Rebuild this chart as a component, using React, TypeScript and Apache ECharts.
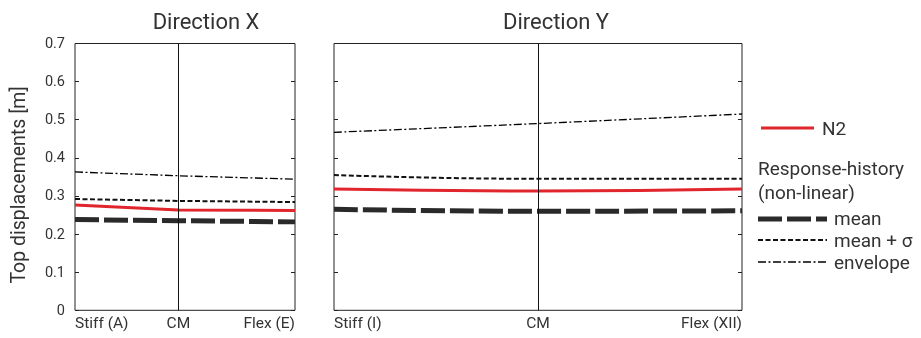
import React, { useEffect, useRef } from "react";
import * as echarts from "echarts";

// Horizontal locations along each direction (0 = stiff side, 1 = flexible side)
const positionsX = [0, 0.47, 1];
const positionsY = [0, 0.5, 1];
const labelsX = ["Stiff (A)", "CM", "Flex (E)"];
const labelsY = ["Stiff (I)", "CM", "Flex (XII)"];

// Top displacements [m], direction X
const n2X = [0.276, 0.263, 0.262];
const meanX = [0.238, 0.235, 0.232];
const meanSigmaX = [0.292, 0.287, 0.284];
const envelopeX = [0.363, 0.353, 0.344];

// Top displacements [m], direction Y
const n2Y = [0.318, 0.313, 0.318];
const meanY = [0.265, 0.26, 0.261];
const meanSigmaY = [0.355, 0.345, 0.345];
const envelopeY = [0.467, 0.49, 0.515];

const FONT = "Roboto";
const TEXT = "#333";
const RED = "#e0262c";

const styles = {
  n2: { color: RED, width: 3, type: "solid" as any },
  mean: { color: "#2a2a2a", width: 5, type: [24, 5] as any },
  meanSigma: { color: "#111", width: 2, type: [5, 2.5] as any },
  envelope: { color: "#000", width: 1.3, type: [8, 2.5, 2, 2.5] as any },
};

function toPoints(pos: number[], vals: number[]) {
  return pos.map((p, i) => [p, vals[i]]);
}

export default function App() {
  const ref = useRef<HTMLDivElement>(null);

  useEffect(() => {
    if (!ref.current) return;
    const chart = echarts.init(ref.current, null, { renderer: "svg" });

    const grids = [
      { left: 75, top: 43.5, width: 220, height: 266.8 },
      { left: 334, top: 43.5, width: 408, height: 266.8 },
    ].map((g) => ({ ...g, show: true, borderColor: "#222", borderWidth: 1, backgroundColor: "transparent" }));

    const makeXAxis = (gridIndex: number, pos: number[], labels: string[]) => ({
      type: "value",
      gridIndex,
      min: 0,
      max: 1,
      axisLine: { show: false },
      axisTick: { show: false },
      splitLine: { show: false },
      axisLabel: {
        customValues: pos,
        formatter: (v: number) => {
          const i = pos.findIndex((p) => Math.abs(p - v) < 1e-6);
          return i >= 0 ? labels[i] : "";
        },
        alignMinLabel: "left",
        alignMaxLabel: "right",
        margin: 5,
        fontFamily: FONT,
        fontSize: 15.5,
        color: TEXT,
      },
    });

    const makeYAxis = (gridIndex: number, position: "left" | "right", labelled: boolean) => ({
      type: "value",
      gridIndex,
      position,
      min: 0,
      max: 0.7,
      interval: 0.1,
      axisLine: { show: false },
      axisTick: { show: true, inside: true, length: 4, lineStyle: { color: "#222", width: 1 } },
      splitLine: { show: false },
      axisLabel: {
        show: labelled,
        margin: 10,
        fontFamily: FONT,
        fontSize: 14.5,
        color: TEXT,
        formatter: (v: number) => (Math.abs(v) < 1e-9 ? "0" : v.toFixed(1)),
      },
    });

    const panel = (
      idx: number,
      pos: number[],
      n2: number[],
      mean: number[],
      meanSigma: number[],
      envelope: number[],
      smooth: boolean
    ) => {
      const base = { type: "line", xAxisIndex: idx, yAxisIndex: idx * 2, symbol: "none", smooth, silent: true };
      return [
        {
          ...base,
          name: "cm",
          data: [],
          markLine: {
            silent: true,
            symbol: ["none", "none"],
            label: { show: false },
            lineStyle: { color: "#111", width: 1, type: "solid" },
            data: [{ xAxis: pos[1] }],
          },
          z: 1,
        },
        { ...base, name: "envelope", data: toPoints(pos, envelope), lineStyle: styles.envelope, z: 3 },
        { ...base, name: "mean + σ", data: toPoints(pos, meanSigma), lineStyle: styles.meanSigma, z: 3 },
        { ...base, name: "mean", data: toPoints(pos, mean), lineStyle: styles.mean, z: 3 },
        { ...base, name: "N2", data: toPoints(pos, n2), lineStyle: styles.n2, z: 4 },
      ];
    };

    const lx1 = 758;
    const lx2 = 827;
    const legendLine = (y: number, s: any) => ({
      type: "line",
      shape: { x1: lx1, y1: y, x2: lx2, y2: y },
      style: {
        stroke: s.color,
        lineWidth: s.width,
        lineDash: Array.isArray(s.type) ? s.type : null,
      },
    });
    const legendText = (x: number, y: number, text: string) => ({
      type: "text",
      x,
      y,
      style: { text, fill: TEXT, font: `19px ${FONT}`, verticalAlign: "middle" },
    });

    chart.setOption({
      animation: false,
      title: [
        { text: "Direction X", left: 201, top: 5, textAlign: "center", textStyle: { fontFamily: FONT, fontSize: 22, fontWeight: "normal", color: TEXT } },
        { text: "Direction Y", left: 551, top: 5, textAlign: "center", textStyle: { fontFamily: FONT, fontSize: 22, fontWeight: "normal", color: TEXT } },
      ],
      grid: grids,
      xAxis: [makeXAxis(0, positionsX, labelsX), makeXAxis(1, positionsY, labelsY)],
      yAxis: [makeYAxis(0, "left", true), makeYAxis(0, "right", false), makeYAxis(1, "left", false), makeYAxis(1, "right", false)],
      series: [
        ...panel(0, positionsX, n2X, meanX, meanSigmaX, envelopeX, false),
        ...panel(1, positionsY, n2Y, meanY, meanSigmaY, envelopeY, true),
      ],
      graphic: [
        {
          type: "text",
          x: 18,
          y: 185,
          rotation: Math.PI / 2,
          style: { text: "Top displacements [m]", fill: TEXT, font: `19.5px ${FONT}`, align: "center", verticalAlign: "middle" },
        },
        {
          type: "line",
          shape: { x1: 761, y1: 128, x2: 814, y2: 128 },
          style: { stroke: RED, lineWidth: 3 },
        },
        legendText(822, 128, "N2"),
        legendText(758, 168, "Response-history"),
        legendText(758, 192, "(non-linear)"),
        legendLine(219, styles.mean),
        legendText(834, 218, "mean"),
        legendLine(240, styles.meanSigma),
        legendText(834, 240, "mean + σ"),
        legendLine(262, styles.envelope),
        legendText(834, 262, "envelope"),
      ],
    });

    return () => chart.dispose();
  }, []);

  return <div ref={ref} style={{ position: "fixed", left: 0, top: 0, width: 921, height: 338 }} />;
}
